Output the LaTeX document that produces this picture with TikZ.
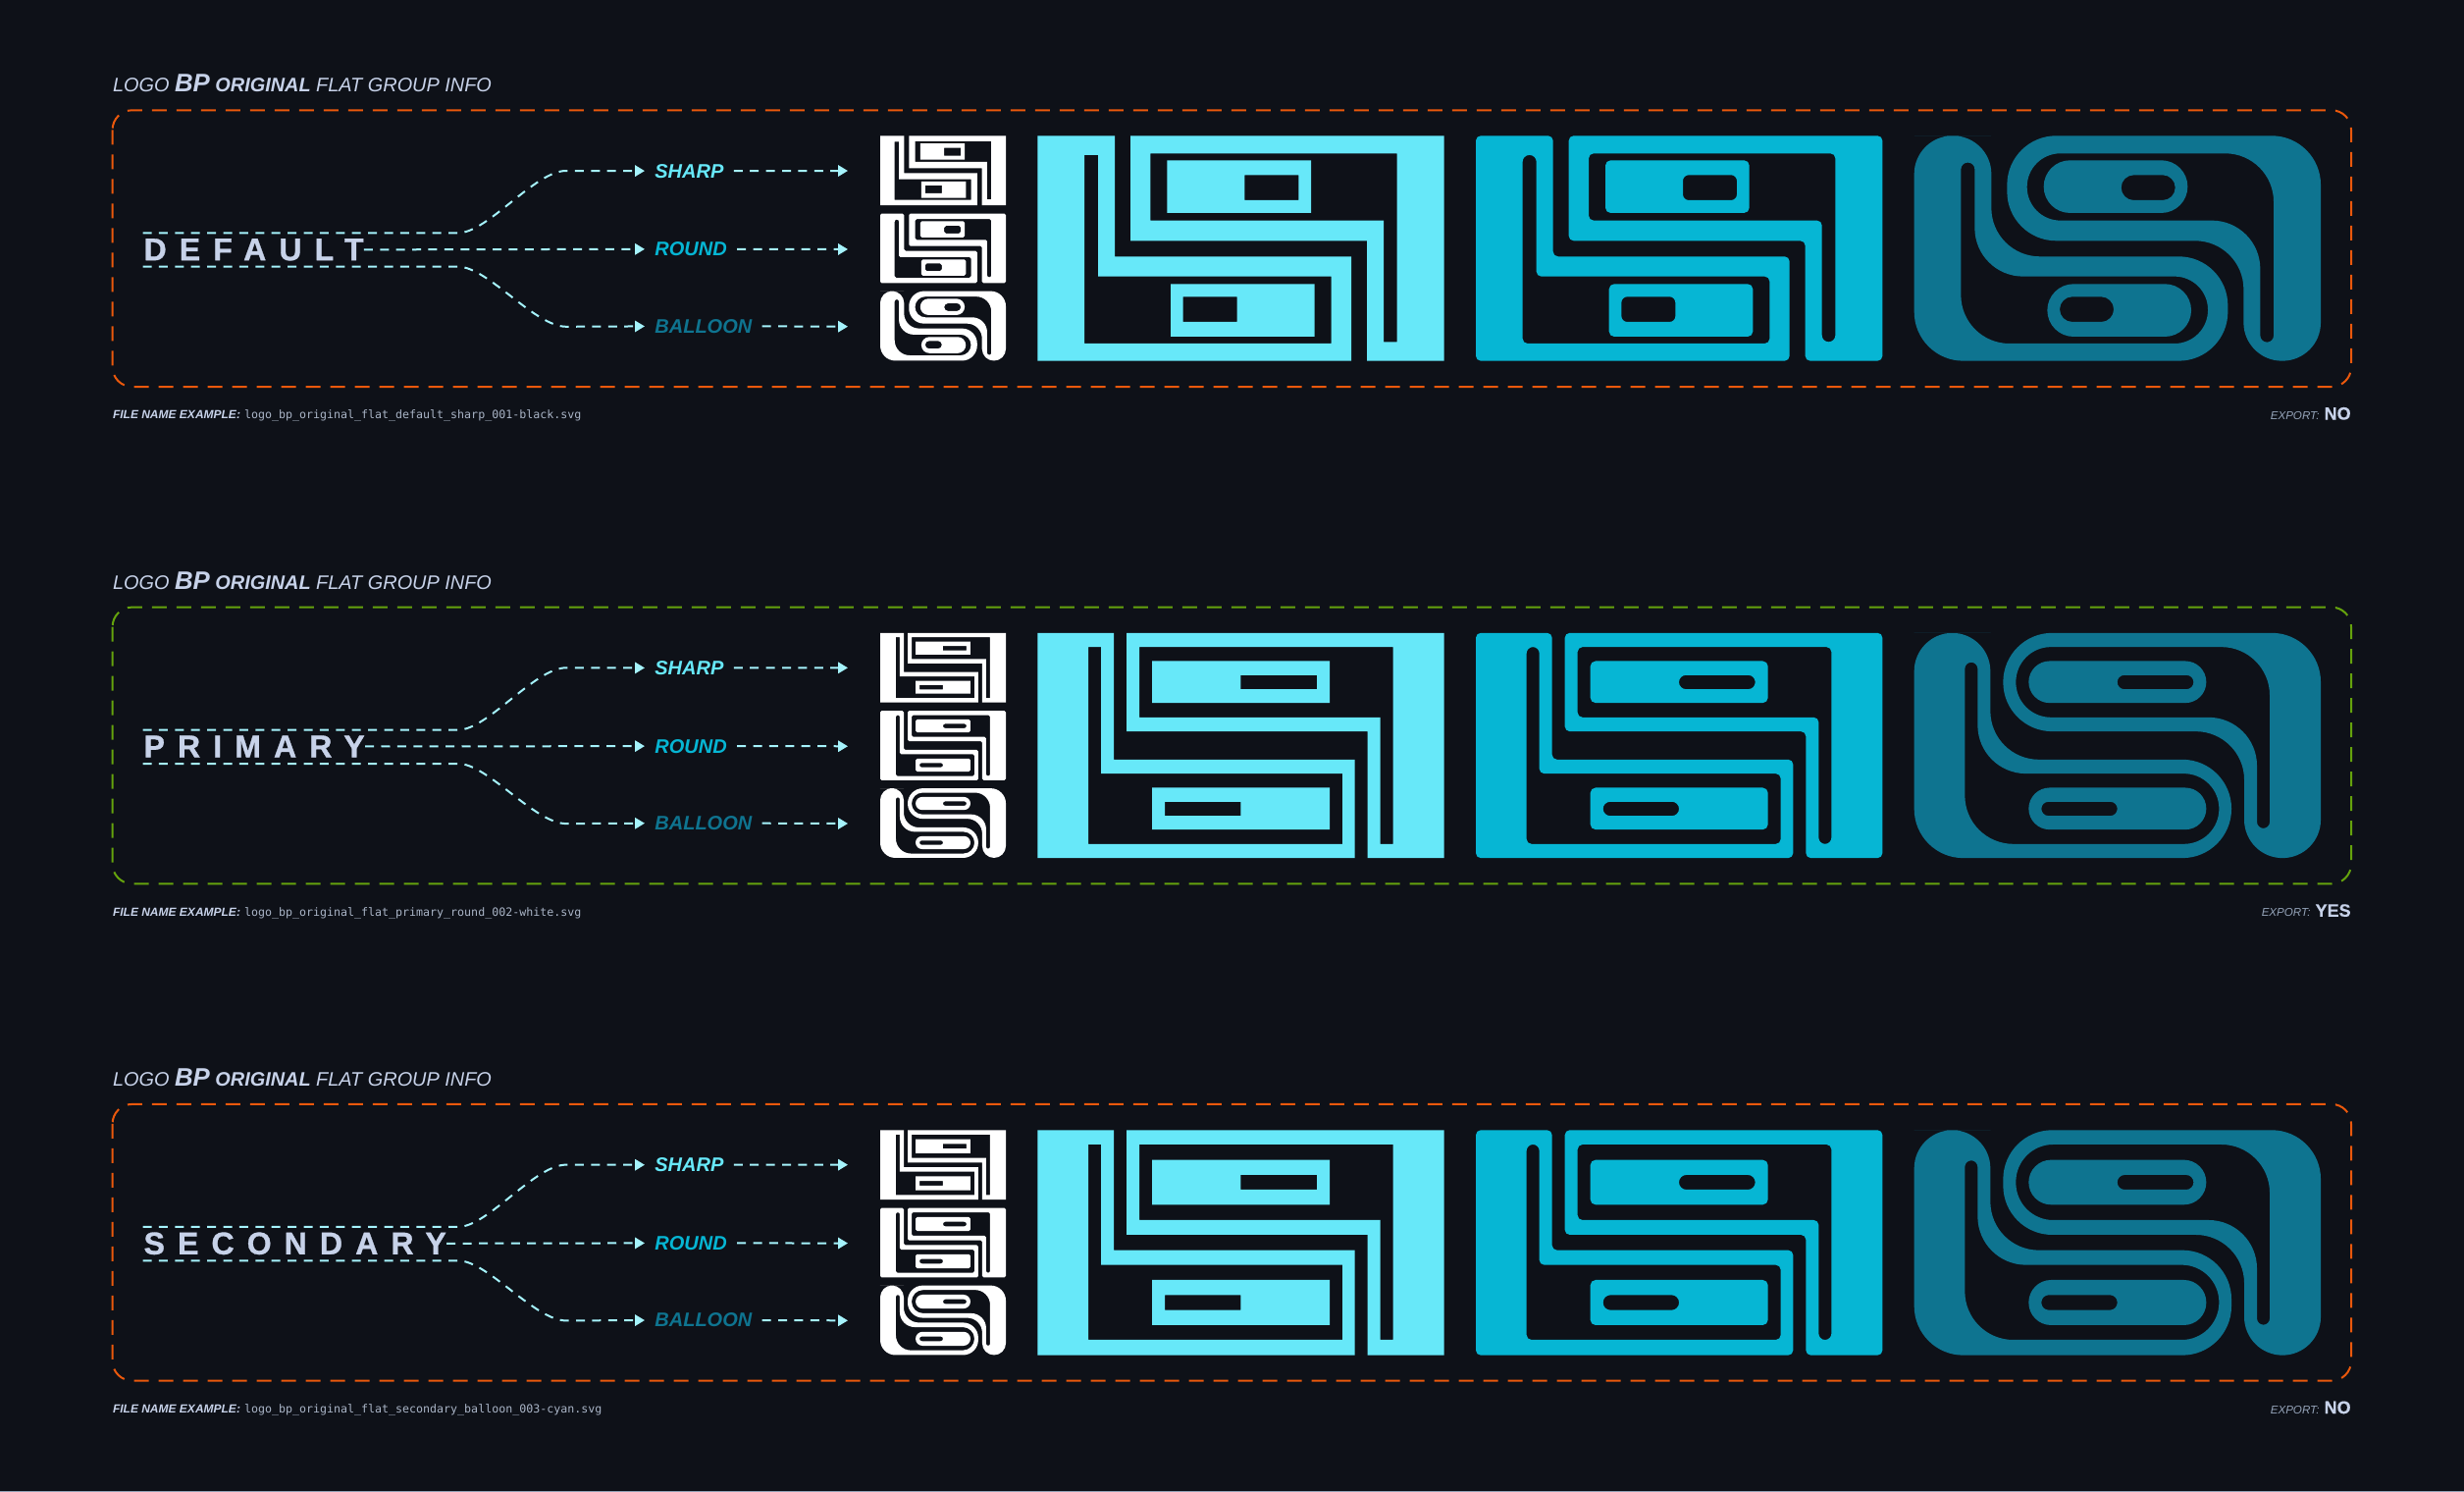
\documentclass[tikz,border=0pt]{standalone}
\usepackage{fontspec}
\setmainfont{Liberation Sans}
\newfontfamily\monof{DejaVu Sans Mono}
\usetikzlibrary{arrows.meta}
\definecolor{bgc}{HTML}{0E1118}
\definecolor{csharp}{HTML}{67E8F9}
\definecolor{cround}{HTML}{06B6D4}
\definecolor{cballoon}{HTML}{0E7490}
\definecolor{cink}{HTML}{C7D2E9}
\definecolor{cgrey}{HTML}{94A3B8}
\definecolor{cmono}{HTML}{A9B4C6}
\definecolor{cline}{HTML}{A5F3FC}
\definecolor{corange}{HTML}{EA580C}
\definecolor{cgreen}{HTML}{65A30D}
\tikzset{
  rr/.style={rounded corners=#1*\LS pt},
  groupbox/.style={line width=1pt,dash pattern=on 7.5pt off 5pt,rounded corners=10pt},
  flow/.style={cline,line width=1pt,dash pattern=on 4.5pt off 3.7pt},
  flowtip/.style={flow,-{Triangle[length=4.9pt,width=5.6pt]}},
  txt/.style={inner sep=0pt,anchor=base west},
  titletxt/.style={txt,cink,font=\fontsize{9.95}{12}\selectfont\itshape},
  wordtxt/.style={txt,cink,font=\fontsize{16}{18}\selectfont\bfseries\addfontfeature{LetterSpace=41,FakeBold=1}},
  lbl/.style={inner ysep=0pt,inner xsep=5pt,anchor=base west,font=\fontsize{10}{12}\selectfont\bfseries\itshape},
  fileb/.style={txt,cink,font=\fontsize{6}{7}\selectfont\bfseries\itshape},
  filem/.style={txt,cmono,font=\fontsize{5.82}{7}\selectfont\monof},
  expa/.style={inner sep=0pt,anchor=base east,cgrey,font=\fontsize{5.8}{7}\selectfont\itshape},
  expb/.style={inner sep=0pt,anchor=base east,cink,font=\fontsize{9}{10}\selectfont\bfseries\addfontfeature{FakeBold=0.4}},
}
% geometries, in third-of-pixel units relative to each logo's top left corner
\def\geomA{\def\gLa{236}\def\gSl{143}\def\gSr{185}\def\gSt{59}\def\gSa{369}\def\gSb{430}\def\gRe{959}\def\gRi{898}\def\gIb{635}%
 \def\gRb{284}\def\gTt{54}\def\gIl{345}\def\gMy{259}\def\gSx{1058}\def\gSy{1099}\def\gSz{630}\def\gLe{321}\def\gLl{1007}%
 \def\gPl{396}\def\gPr{836}\def\gPt{75}\def\gPb{236}\def\gHl{633}\def\gHr{798}\def\gHt{120}\def\gHb{197}%
 \def\gQl{407}\def\gQr{847}\def\gQt{453}\def\gQb{614}\def\gJl{445}\def\gJr{610}\def\gJt{492}\def\gJb{569}%
 \def\gHalfP{80.5}\def\gHalfH{38.5}\def\gHalfF{102}\def\gSlotR{20.5}\def\gHoleR{18}\def\gBt{82}\def\gBz{631}}
\def\geomB{\def\gLa{233}\def\gSl{155}\def\gSr{194}\def\gSt{43}\def\gSa{387}\def\gSb{430}\def\gRe{970}\def\gRi{932}\def\gIb{645}%
 \def\gRb{272}\def\gTt{43}\def\gIl{311}\def\gMy{258}\def\gSx{1048}\def\gSy{1087}\def\gSz{645}\def\gLe{301}\def\gLl{1009}%
 \def\gPl{350}\def\gPr{893}\def\gPt{86}\def\gPb{214}\def\gHl{621}\def\gHr{854}\def\gHt{129}\def\gHb{172}%
 \def\gQl{350}\def\gQr{893}\def\gQt{473}\def\gQb{601}\def\gJl{389}\def\gJr{621}\def\gJt{516}\def\gJb{559}%
 \def\gHalfP{64}\def\gHalfH{21.5}\def\gHalfF{107}\def\gSlotR{19.5}\def\gHoleR{21.5}\def\gBt{90}\def\gBz{597}}
\def\geomC{\def\gLa{233}\def\gSl{155}\def\gSr{194}\def\gSt{44}\def\gSa{367}\def\gSb{412}\def\gRe{970}\def\gRi{932}\def\gIb{641}%
 \def\gRb{272}\def\gTt{44}\def\gIl{311}\def\gMy{275}\def\gSx{1048}\def\gSy{1087}\def\gSz{641}\def\gLe{320}\def\gLl{1009}%
 \def\gPl{350}\def\gPr{893}\def\gPt{91}\def\gPb{228}\def\gHl{621}\def\gHr{854}\def\gHt{137}\def\gHb{182}%
 \def\gQl{350}\def\gQr{893}\def\gQt{458}\def\gQb{596}\def\gJl{389}\def\gJr{621}\def\gJt{504}\def\gJb{550}%
 \def\gHalfP{68.5}\def\gHalfH{22.5}\def\gHalfF{114}\def\gSlotR{19.5}\def\gHoleR{22.5}\def\gBt{93}\def\gBz{595}}
\def\stylesharp{\def\rA{0.01}\def\rB{0.01}\def\rC{0.01}\def\rD{0.01}\def\rE{0.01}\def\rF{0.01}\def\rS{0.01}\def\rP{0.01}\def\rH{0.01}}
\def\styleround{\def\rA{15}\def\rB{15}\def\rC{15}\def\rD{15}\def\rE{15}\def\rF{15}\edef\rS{\gSlotR}\def\rP{16}\edef\rH{\gHoleR}}
\def\styleballoon{\def\rA{117}\def\rB{150}\def\rC{148}\def\rD{148}\def\rE{150}\edef\rF{\gHalfF}\edef\rS{\gSlotR}\edef\rP{\gHalfP}\edef\rH{\gHalfH}%
 \let\gSt\gBt\let\gSz\gBz}
% #1 geometry, #2 style, #3 x, #4 y, #5 unit in pt, #6 colour
\newcommand\logoshape[6]{%
 \begin{scope}[shift={(#3,#4)}]
 \def\LS{#5}%
 \csname geom#1\endcsname\csname style#2\endcsname
 \begin{scope}[x=#5pt,y=-#5pt]
 \fill[#6,even odd rule]
   ({\gLa/2},0) [rr=\rA] -- (\gLa,0) [rr=\rD] -- (\gLa,\gSa) [rr=\rE] -- (\gRe,\gSa) [rr=\rE] -- (\gRe,688)
   [rr=\rB] -- (0,688) [rr=\rA] -- (0,0) -- cycle
   (\gSl,300) [rr=\rS] -- (\gSl,\gSt) [rr=\rS] -- (\gSr,\gSt) [rr=\rD] -- (\gSr,\gSb) [rr=\rF] -- (\gRi,\gSb)
   [rr=\rF] -- (\gRi,\gIb) [rr=\rC] -- (\gSl,\gIb) -- cycle;
 \fill[#6,even odd rule]
   (700,0) [rr=\rB] -- (1243,0) [rr=\rA] -- (1243,688) [rr=\rA] -- (\gLl,688) [rr=\rD] -- (\gLl,\gLe)
   [rr=\rE] -- (\gRb,\gLe) [rr=\rE] -- (\gRb,0) -- cycle
   (700,\gTt) [rr=\rC] -- (\gSy,\gTt) [rr=\rS] -- (\gSy,\gSz) [rr=\rS] -- (\gSx,\gSz) [rr=\rD] -- (\gSx,\gMy)
   [rr=\rF] -- (\gIl,\gMy) [rr=\rF] -- (\gIl,\gTt) -- cycle;
 \fill[#6,even odd rule]
   [rr=\rP] (\gPl,\gPt) rectangle (\gPr,\gPb)
   [rr=\rH] (\gHl,\gHt) rectangle (\gHr,\gHb);
 \fill[#6,even odd rule]
   [rr=\rP] (\gQl,\gQt) rectangle (\gQr,\gQb)
   [rr=\rH] (\gJl,\gJt) rectangle (\gJr,\gJb);
 \end{scope}
 \end{scope}}
% #1 row name, #2 offset, #3 box colour, #4 word, #5 file name, #6 export, #7 geometry, #8 logo y inside row
\newcommand\drawrow[8]{%
 \begin{scope}[yshift={-#2*0.5pt}]
 \node[titletxt] (title#1) at (114.6,94) {LOGO {\fontsize{12.9}{12}\selectfont\bfseries BP} {\bfseries ORIGINAL} FLAT GROUP INFO};
 \draw[#3,groupbox] (114.6,112.3) rectangle (2396,394);
 \node[wordtxt] (word#1) at (146.2,265.2) {#4};
 \coordinate (top#1) at (145.5,237.3);
 \coordinate (bot#1) at (145.5,271.7);
 \node[lbl,text=csharp] (sharp#1) at (657,181) {SHARP};
 \node[lbl,text=cround] (round#1) at (657,260.7) {ROUND};
 \node[lbl,text=cballoon] (balloon#1) at (657,339.3) {BALLOON};
 \draw[flowtip] (top#1) -- (467,237.3) .. controls (497,237.3) and (545,174) .. (577,174) -- (sharp#1.west);
 \draw[flowtip] (word#1.east) -- (round#1.west);
 \draw[flowtip] (bot#1) -- (467,271.7) .. controls (497,271.7) and (545,332.8) .. (577,332.8) -- (balloon#1.west);
 \coordinate (mini1#1) at (897,174);
 \coordinate (mini2#1) at (897,254);
 \coordinate (mini3#1) at (897,332.8);
 \draw[flowtip,shorten >=16.5pt] (sharp#1.east) -- (mini1#1);
 \draw[flowtip,shorten >=16.5pt] (round#1.east) -- (mini2#1);
 \draw[flowtip,shorten >=16.5pt] (balloon#1.east) -- (mini3#1);
 \logoshape{#7}{sharp}{897}{#8}{0.0515}{white}
 \logoshape{#7}{round}{897}{#8+79.3}{0.0515}{white}
 \logoshape{#7}{balloon}{897}{#8+158.3}{0.0515}{white}
 \logoshape{#7}{sharp}{1057.33}{#8}{0.16667}{csharp}
 \logoshape{#7}{round}{1504}{#8}{0.16667}{cround}
 \logoshape{#7}{balloon}{1950.67}{#8}{0.16667}{cballoon}
 \node[fileb] (fileb#1) at (114.6,426.8) {FILE NAME EXAMPLE:};
 \node[filem] (filem#1) at (248.6,426.8) {#5};
 \node[expb] (expb#1) at (2396,427.5) {#6};
 \node[expa,xshift=-2.1pt] (expa#1) at (expb#1.base west) {EXPORT:};
 \end{scope}}
\begin{document}
\begin{tikzpicture}[x=0.5pt,y=-0.5pt]
\path[use as bounding box,fill=bgc] (0,0) rectangle (2511,1520);
\fill[cgrey] (0,1518.8) rectangle (2511,1520);
\drawrow{a}{0}{corange}{DEFAULT}{logo\_bp\_original\_flat\_default\_sharp\_001-black.svg}{NO}{A}{138.3}
\drawrow{b}{506.3}{cgreen}{PRIMARY}{logo\_bp\_original\_flat\_primary\_round\_002-white.svg}{YES}{B}{138.5}
\drawrow{c}{1012.6}{corange}{SECONDARY}{logo\_bp\_original\_flat\_secondary\_balloon\_003-cyan.svg}{NO}{C}{138.7}
\end{tikzpicture}
\end{document}
